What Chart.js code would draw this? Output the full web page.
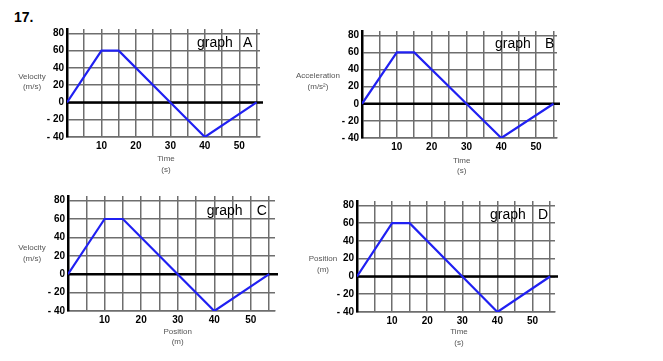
<!DOCTYPE html>
<html><head><meta charset="utf-8">
<script src="https://cdn.jsdelivr.net/npm/chart.js@4"></script>
<style>
body{margin:0;background:#fff;width:663px;height:361px;position:relative;overflow:hidden;font-family:"Liberation Sans",Arial,sans-serif}
canvas{position:absolute}
.t{position:absolute;font-size:8px;color:#555;text-align:center;line-height:10.5px;transform:translateX(-50%);white-space:nowrap}
.g{position:absolute;font-size:14px;color:#000;line-height:14px;white-space:nowrap}
</style></head><body>
<div style="position:absolute;left:14px;top:9px;font:bold 14px 'Liberation Sans',Arial;line-height:16px">17.</div>
<script>
// ---- data ----
const xValues = [0, 10, 15, 30, 40, 55];
const yValues = [0, 60, 60, 0, -40, 0];
const yTickValues = [-40, -20, 0, 20, 40, 60, 80];
const yTickLabels = ['- 40', '- 20', '0', '20', '40', '60', '80'];
const xTickValues = [10, 20, 30, 40, 50];
const xTickLabels = ['10', '20', '30', '40', '50'];
const graphNames = ['A', 'B', 'C', 'D'];
const yTitles = [['Velocity', '(m/s)'], ['Acceleration', '(m/s²)'], ['Velocity', '(m/s)'], ['Position', '(m)']];
const xTitles = [['Time', '(s)'], ['Time', '(s)'], ['Position', '(m)'], ['Time', '(s)']];
const yMin = -40, yMax = 85;
const xMaxes = [56, 56, 56.6, 56.4];

// ---- layout (positions only) ----
const plots = [
  {L: 67, T: 29, R: 260, B: 137},
  {L: 362, T: 31, R: 557, B: 138},
  {L: 68, T: 196, R: 275, B: 311},
  {L: 357, T: 201, R: 555, B: 312}
];
const yTitlePos = [[32, 71.5], [318, 71], [32, 243], [323, 254]];
const xTitlePos = [[166, 154], [461.7, 155.5], [177.7, 326.5], [459, 327]];
const graphPos = [[197, 243, 35], [495, 545, 36], [206.7, 256.7, 203], [490, 538, 207]];

const GRID = '#6e6e6e';
const PADL = 50, PADT = 10, PADR = 12, PADB = 22;

function addText(cls, x, y, html) {
  const d = document.createElement('div');
  d.className = cls;
  d.style.left = x + 'px';
  d.style.top = y + 'px';
  d.innerHTML = html;
  document.body.appendChild(d);
}

const zeroLine = {
  id: 'zeroLine',
  beforeDatasetsDraw(chart) {
    const {ctx, chartArea, scales} = chart;
    const y = scales.y.getPixelForValue(0);
    ctx.save();
    ctx.strokeStyle = '#000';
    ctx.lineWidth = 2.5;
    ctx.beginPath();
    ctx.moveTo(chartArea.left, y);
    ctx.lineTo(chartArea.right + 3, y);
    ctx.stroke();
    ctx.restore();
  }
};

plots.forEach((p, i) => {
  const c = document.createElement('canvas');
  const w = (p.R - p.L) + PADL + PADR;
  const h = (p.B - p.T) + PADT + PADB;
  c.width = w; c.height = h;
  c.style.left = (p.L - PADL) + 'px';
  c.style.top = (p.T - PADT) + 'px';
  c.style.width = w + 'px'; c.style.height = h + 'px';
  document.body.appendChild(c);

  new Chart(c, {
    type: 'line',
    data: {
      datasets: [{
        data: xValues.map((x, k) => ({x: x, y: yValues[k]})),
        borderColor: '#2020f2',
        borderWidth: 2.2,
        pointRadius: 0,
        tension: 0,
        fill: false
      }]
    },
    options: {
      responsive: false,
      animation: false,
      devicePixelRatio: 1,
      layout: {padding: {left: 0, top: PADT, right: PADR, bottom: 0}},
      plugins: {legend: {display: false}, tooltip: {enabled: false}, title: {display: false}},
      scales: {
        x: {
          type: 'linear', min: 0, max: xMaxes[i],
          afterFit(s) { s.height = PADB; },
          grid: {color: GRID, lineWidth: 1.5, drawTicks: false},
          border: {display: true, color: GRID, width: 1.5},
          ticks: {
            stepSize: 5, includeBounds: false, autoSkip: false, maxRotation: 0, padding: 3,
            color: '#000', font: {family: 'Liberation Sans', weight: 'bold', size: 10},
            callback: v => { const k = xTickValues.indexOf(v); return k >= 0 ? xTickLabels[k] : ''; }
          }
        },
        y: {
          type: 'linear', min: yMin, max: yMax,
          afterFit(s) { s.width = PADL; },
          grid: {color: GRID, lineWidth: 1.5, drawTicks: false},
          border: {display: true, color: '#000', width: 2.5},
          ticks: {
            stepSize: 20, includeBounds: false, autoSkip: false, padding: 3,
            color: '#000', font: {family: 'Liberation Sans', weight: 'bold', size: 10},
            callback: v => { const k = yTickValues.indexOf(v); return k >= 0 ? yTickLabels[k] : ''; }
          }
        }
      }
    },
    plugins: [zeroLine]
  });

  addText('t', yTitlePos[i][0], yTitlePos[i][1], yTitles[i].join('<br>'));
  addText('t', xTitlePos[i][0], xTitlePos[i][1], xTitles[i].join('<br>'));
  addText('g', graphPos[i][0], graphPos[i][2], 'graph');
  addText('g', graphPos[i][1], graphPos[i][2], graphNames[i]);
});
</script>
</body></html>
